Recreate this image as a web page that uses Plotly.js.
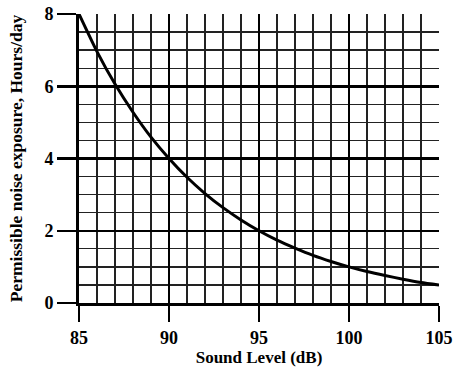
<!DOCTYPE html>
<html>
<head>
<meta charset="utf-8">
<script src="https://cdn.plot.ly/plotly-3.0.1.min.js"></script>
<style>html,body{margin:0;padding:0;background:#fff;}#chart{width:459px;height:369px;}</style>
</head>
<body>
<div id="chart"></div>
<script>
// Sound level (dB) and permissible exposure (hours/day)
const soundLevel = [85, 86, 87, 88, 89, 90, 91, 92, 93, 94, 95, 96, 97, 98, 99, 100, 101, 102, 103, 104, 105];
const exposureHours = [8, 6.96, 6.06, 5.28, 4.59, 4, 3.48, 3.03, 2.64, 2.3, 2, 1.74, 1.52, 1.32, 1.15, 1, 0.87, 0.76, 0.66, 0.57, 0.5];
const xTicks = [85, 90, 95, 100, 105];
const yTicks = [0, 2, 4, 6, 8];

const serif = "Liberation Serif, Times New Roman, serif";

const trace = {
  x: soundLevel,
  y: exposureHours,
  type: 'scatter',
  mode: 'lines',
  line: {color: '#000', width: 3, shape: 'spline', smoothing: 0.6},
  hoverinfo: 'skip'
};

const layout = {
  width: 459,
  height: 369,
  margin: {l: 79, r: 20, t: 14, b: 66},
  paper_bgcolor: '#fff',
  plot_bgcolor: '#fff',
  showlegend: false,
  xaxis: {
    range: [85, 105],
    tickvals: xTicks,
    ticktext: xTicks.map(String),
    ticks: 'outside',
    ticklen: 16,
    tickwidth: 2.5,
    tickcolor: '#000',
    showgrid: true,
    gridcolor: '#000',
    gridwidth: 2,
    minor: {dtick: 1, showgrid: true, gridcolor: '#222', gridwidth: 1.3, ticks: ''},
    showline: true,
    linecolor: '#000',
    linewidth: 3,
    zeroline: false,
    tickfont: {family: serif, size: 18, weight: 'bold', color: '#000'},
    title: {text: 'Sound Level (dB)', font: {family: serif, size: 17, weight: 'bold', color: '#000'}, standoff: 5}
  },
  yaxis: {
    range: [0, 8],
    tickvals: yTicks,
    ticktext: yTicks.map(String),
    ticks: 'outside',
    ticklen: 19,
    tickwidth: 2.5,
    tickcolor: '#000',
    showgrid: true,
    gridcolor: '#000',
    gridwidth: 2.5,
    minor: {dtick: 0.5, showgrid: true, gridcolor: '#222', gridwidth: 1.3, ticks: ''},
    showline: true,
    linecolor: '#000',
    linewidth: 3,
    zeroline: false,
    tickfont: {family: serif, size: 18, weight: 'bold', color: '#000'},
    title: {text: 'Permissible noise exposure, Hours/day', font: {family: serif, size: 17.5, weight: 'bold', color: '#000'}, standoff: 18}
  }
};

Plotly.newPlot('chart', [trace], layout, {displayModeBar: false, staticPlot: true});
</script>
</body>
</html>
